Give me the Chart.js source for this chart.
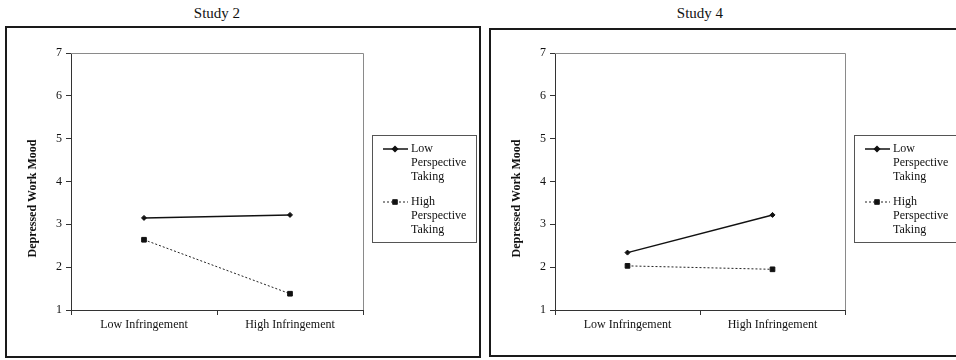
<!DOCTYPE html>
<html>
<head>
<meta charset="utf-8">
<script src="https://cdn.jsdelivr.net/npm/chart.js@4.4.1/dist/chart.umd.min.js"></script>
<style>
  html, body { margin: 0; padding: 0; width: 956px; height: 360px; overflow: hidden; background: #fff; }
  .title { position: absolute; font: 15px 'Liberation Serif', 'Times New Roman', serif; color: #111; text-align: center; }
  .panel { position: absolute; box-sizing: border-box; border: 2px solid #1a1a1a; background: #fff; }
  canvas { display: block; }
</style>
</head>
<body>
<div class="title" style="left:71px; top:5px; width:292px">Study 2</div>
<div class="panel" style="left:5px; top:26px; width:476px; height:332px">
  <canvas id="study2" width="472" height="328"></canvas>
</div>
<div class="title" style="left:555px; top:5px; width:290px">Study 4</div>
<div class="panel" style="left:489px; top:28px; width:480px; height:329px">
  <canvas id="study4" width="476" height="325"></canvas>
</div>

<script>
const categories = ['Low Infringement', 'High Infringement']
const seriesNames = ['Low Perspective Taking', 'High Perspective Taking']
const yTicks = [1, 2, 3, 4, 5, 6, 7]
const yAxisTitle = 'Depressed Work Mood'

const study2Low = [3.15, 3.22]
const study2High = [2.64, 1.38]
const study4Low = [2.34, 3.22]
const study4High = [2.03, 1.95]

Chart.defaults.font.family = "'Liberation Serif', 'Times New Roman', serif"
Chart.defaults.font.size = 12
Chart.defaults.color = '#111'

// caja gris alrededor del area del grafico (arriba y derecha)
const plotFrame = {
  id: 'plotFrame',
  beforeDatasetsDraw(chart) {
    const { ctx, chartArea: a } = chart
    ctx.save()
    ctx.strokeStyle = '#8a8a8a'
    ctx.lineWidth = 1
    ctx.beginPath()
    ctx.moveTo(a.left, a.top + 0.5)
    ctx.lineTo(a.right + 0.5, a.top + 0.5)
    ctx.lineTo(a.right + 0.5, a.bottom)
    ctx.stroke()
    ctx.restore()
  },
}

// titulo del eje Y, un poco debajo del centro como en el original
const yTitle = {
  id: 'yTitle',
  afterDraw(chart) {
    const { ctx, chartArea: a } = chart
    ctx.save()
    ctx.translate(a.left - 38, (a.top + a.bottom) / 2 + 17)
    ctx.rotate(-Math.PI / 2)
    ctx.font = "bold 12px 'Liberation Serif', 'Times New Roman', serif"
    ctx.fillStyle = '#111'
    ctx.textAlign = 'center'
    ctx.textBaseline = 'middle'
    ctx.fillText(yAxisTitle, 0, 0)
    ctx.restore()
  },
}

// leyenda a la derecha, con una palabra por linea
const sideLegend = {
  id: 'sideLegend',
  afterDraw(chart) {
    const { ctx, chartArea: a } = chart
    const bx = a.right + 9
    const by = a.top + 82
    ctx.save()
    ctx.strokeStyle = '#555'
    ctx.lineWidth = 1
    ctx.strokeRect(bx + 0.5, by + 0.5, 104, 107)
    ctx.font = "12px 'Liberation Serif', 'Times New Roman', serif"
    ctx.textBaseline = 'middle'
    ctx.textAlign = 'left'
    chart.data.datasets.forEach((ds, i) => {
      const y0 = by + 14 + i * 53
      ctx.strokeStyle = ds.borderColor
      ctx.lineWidth = ds.borderWidth
      ctx.setLineDash(ds.borderDash || [])
      ctx.beginPath()
      ctx.moveTo(bx + 11, y0)
      ctx.lineTo(bx + 36, y0)
      ctx.stroke()
      ctx.setLineDash([])
      ctx.fillStyle = ds.pointBackgroundColor
      ctx.strokeStyle = ds.borderColor
      Chart.helpers.drawPoint(ctx, {
        pointStyle: ds.pointStyle,
        radius: ds.pointRadius,
        rotation: 0,
        borderWidth: 1,
      }, bx + 23, y0)
      ctx.fillStyle = '#111'
      ds.label.split(' ').forEach((word, j) => {
        ctx.fillText(word, bx + 39, y0 + j * 14)
      })
    })
    ctx.restore()
  },
}

function createChart(id, lowData, highData, pad, xHeight) {
  const ctx = document.getElementById(id).getContext('2d')
  return new Chart(ctx, {
    type: 'line',
    data: {
      labels: categories,
      datasets: [
        {
          label: seriesNames[0],
          data: lowData,
          borderColor: '#111',
          borderWidth: 1.5,
          pointStyle: 'rectRot',
          pointRadius: 2.5,
          pointBorderWidth: 1,
          pointBackgroundColor: '#111',
          pointBorderColor: '#111',
        },
        {
          label: seriesNames[1],
          data: highData,
          borderColor: '#222',
          borderWidth: 1,
          borderDash: [2, 2],
          pointStyle: 'rect',
          pointRadius: 3.3,
          pointBorderWidth: 1,
          pointBackgroundColor: '#111',
          pointBorderColor: '#111',
        },
      ],
    },
    options: {
      responsive: false,
      animation: false,
      layout: { padding: pad },
      plugins: {
        legend: { display: false },
        tooltip: { enabled: false },
      },
      scales: {
        x: {
          offset: true,
          grid: { offset: true, drawOnChartArea: false, tickLength: 5, color: '#333' },
          border: { color: '#333' },
          ticks: { padding: 3, color: '#111', maxRotation: 0 },
          afterFit: s => { s.height = xHeight },
        },
        y: {
          min: yTicks[0],
          max: yTicks[yTicks.length - 1],
          grid: { drawOnChartArea: false, tickLength: 5, color: '#333' },
          border: { color: '#333' },
          ticks: { padding: 4, color: '#111' },
          afterBuildTicks: s => { s.ticks = yTicks.map(v => ({ value: v })) },
          afterFit: s => { s.width = 64 },
        },
      },
    },
    plugins: [plotFrame, yTitle, sideLegend],
  })
}

createChart('study2', study2Low, study2High, { left: 0, top: 25, right: 116, bottom: 0 }, 46)
createChart('study4', study4Low, study4High, { left: 0, top: 23, right: 122, bottom: 0 }, 45)
</script>
</body>
</html>
